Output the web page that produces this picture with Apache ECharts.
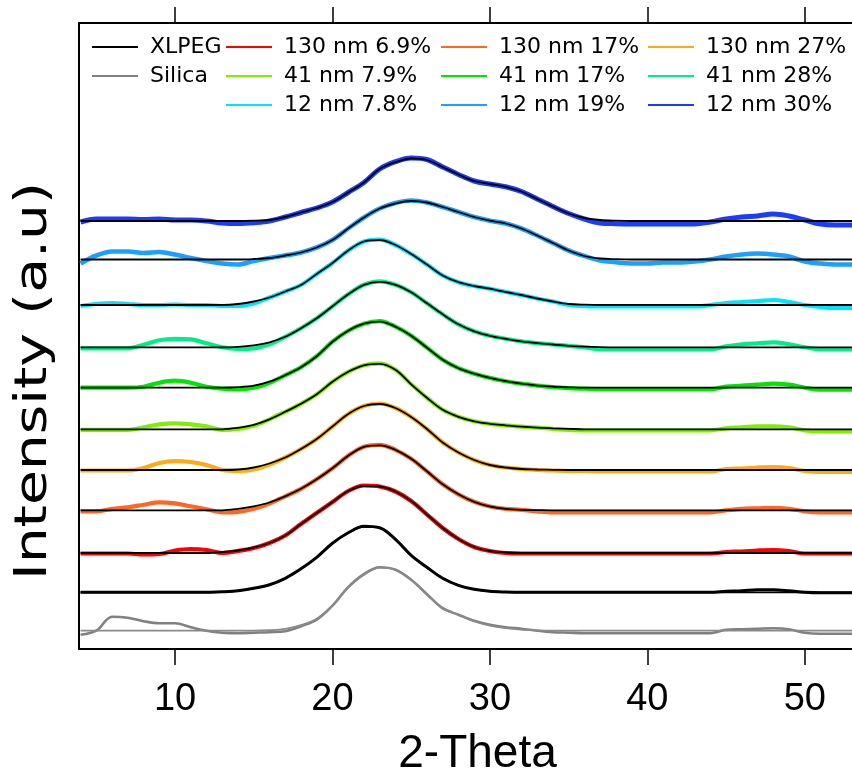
<!DOCTYPE html>
<html>
<head>
<meta charset="utf-8">
<script src="https://cdn.jsdelivr.net/npm/echarts@6/dist/echarts.min.js"></script>
<style>
  html, body { margin: 0; padding: 0; background: #fff; }
  #chart { width: 852px; height: 769px; }
</style>
</head>
<body>
<div id="chart"></div>
<script>
// Diffraction angle (degrees 2-Theta) shared by every pattern
const twoTheta = [4,5,6,7,8,9,10,11,12,13,14,15,16,17,18,19,20,21,22,23,24,25,26,27,28,29,
  30,31,32,33,34,35,36,37,38,39,40,41,42,43,44,45,46,47,48,49,50,51,52,53];

const tickValues = [10, 20, 30, 40, 50];

// Legend names, bottom pattern first
const sampleNames = ['Silica', 'XLPEG', '130 nm 6.9%', '130 nm 17%', '130 nm 27%',
  '41 nm 7.9%', '41 nm 17%', '41 nm 28%', '12 nm 7.8%', '12 nm 19%', '12 nm 30%'];

// Vertical offset of each pattern in the stack (a.u.)
const baselines = [18.3, 56.7, 96, 138.7, 179, 219.7, 261.3, 301.7, 344, 389.5, 428];

// Measured intensities (a.u., above each pattern's baseline)
const obsSilica = [-4,0,14,13,9.5,7.5,7.5,3.5,0,-2,-2.5,-2,
  -1.5,-0.5,4.5,11,25,43.5,56.5,63.5,61,51,36.5,22.5,16,10,6,3.5,2,0,
  -1.5,-2,-2.5,-2.5,-2.5,-2.5,-2.5,-2.5,-2.5,-2.5,-2.5,1,1.5,2,2.5,1.5,-2,-3,-3,-3];
const obsXLPEG = [0,0,0,0,0,0,0,0,0,
  0.5,1.5,4,7.5,14,23.5,35,49,59.5,66,64.5,53,37,25,14,7,3,1,0.3,
  0,0,0,0,0,0,0,0,0,0,0,0,0,1,1.5,2.5,2.5,1.5,0,-0.5,-0.5,-0.5];
const obs130a = [-0.5,-0.5,-0.5,-0.5,-1.5,-1,2.5,4,3,
  0,2,5,10,17.5,29,40,51,62,67.5,66.5,61.5,52,38.5,25,14,6,2,0,
  -0.5,-0.5,-0.5,-0.5,-0.5,-0.5,-0.5,-0.5,-0.5,-0.5,-0.5,-0.5,-0.5,1,1.5,2.5,3,2,-0.5,-0.5,-0.5,-0.5];
const obs130b = [-1,-1,1.5,3,5.5,8,7,4,1,-2,
  -1.5,1.5,6.8,14,21.5,31,42,54.5,63.5,65.5,60.5,51.5,39,26,16,8.5,3.8,1.5,0.5,-1,
  -2,-2,-2,-2,-2,-2,-2,-2,-2,-2,-2,0,1.5,2,2.5,1.5,-1,-2,-2,-2];
const obs130c = [-0.5,-0.5,-0.5,-0.5,2,7,9,8,5,0,
  -1,0.5,5.5,12.5,21,31,43.5,56,64,66.5,62,53,41,27.5,17.5,10,5,2.5,1,0,-0.5,
  -1,-1,-1.5,-1.5,-1.5,-1.5,-1.5,-1.5,-1.5,-1.5,1,1.5,2.5,3,2,-1,-2,-2,-2];
const obs41a = [-0.5,-0.5,-0.5,-0.5,2,5,6,5,3,-0.5,
  0.5,3.5,10,17.5,25.5,35,47.5,57.5,64,66,59.5,45,31.5,19.5,12.5,8,5.5,4,2.6,1.6,0.5,-0.5,
  -1,-1,-1,-1,-1,-1,-1,-1,-1,1,2,3,3,2,-1,-2,-2,-2];
const obs41b = [0,0,0,0,1,5,7,5,1,-1,
  -1.5,0,5,12.5,20.5,31.5,46,57,64,66.5,61,52,40,28,19.5,14,9.8,6.5,4,2.1,0.5,-0.5,
  -1,-1.5,-1.5,-1.5,-1.5,-1.5,-1.5,-1.5,-1.5,1,2,3,4,3,0,-2,-2,-2];
const obs41c = [-1,-1,-1,-1,2.5,7,8.5,8,4,0,
  -1.5,-1,3,10.5,19,29,41,53,62.5,66,62.5,55,44,33,23,16,11.5,8.5,6,4.2,2.8,1.5,0,-1.8,
  -2,-2,-2,-2,-2,-2,-2,1,3,4,5,3,0,-2,-2,-2];
const obs12a = [-1,1,2,1,0,0,0.5,0,0,-1,
  -1,1.5,7.5,13.5,20,31,42,54.5,63.5,65.5,60,51,40.5,29.5,22.8,19,16.3,13,10,6.5,3.5,0,-1,
  -1.5,-1.5,-1.5,-1.5,-1.5,-1.5,-1.5,0,2,3,4,5,3,0,-2,-3,-3];
const obs12b = [-4,4,8,8,6.5,7.5,5,1.5,-1.5,-4,-5,
  -1.5,1.5,4,7,12,19.5,31,42,51,56.5,59,57,52.5,47.5,42.5,38.8,36,31,24,16.5,9,3.5,-1,-2.7,
  -4,-4,-3,-3,-2,0,3,5,6,5,3,-2,-4,-5,-5];
const obs12c = [-1,2,2,2,1.5,2,1,1,0,-2,-2.5,
  -1.7,0,4,8.5,13,19,28.5,38.5,52,59.3,63,61.5,54,46.5,40,37,34.2,29.5,22,14.5,7.5,2,-2,-2.7,
  -3,-3,-3,-3,-3,-1,2,4,5,7,5,1,-3,-4,-4];

// Fitted profiles (a.u., above each pattern's baseline)
const fitSilica = [0,0,0,0,0,0,0,0,0,0,0,0,
  0.5,1.8,5.5,12,25,43,56,63,61,51,36.5,22,16,9.5,5,2.5,1,0.3,
  0,0,0,0,0,0,0,0,0,0,0,0,0,0,0,0,0,0,0,0];
const fitXLPEG = [0,0,0,0,0,0,0,0,0,
  0.5,1.5,4,7.5,14,23.5,35,49,59.5,65.5,64.5,53,37,25,14,7,3,1,0.3,
  0,0,0,0,0,0,0,0,0,0,0,0,0,0,0,0,0,0,0,0,0,0];
const fit130a = [0,0,0,0,0,0,0,0,0,
  1,2.5,5.5,10,17.5,29,40,51,62,67,66.5,61.5,52,38.5,25,14,6,2,0.5,
  0,0,0,0,0,0,0,0,0,0,0,0,0,0,0,0,0,0,0,0,0,0];
const fit130b = [0,0,0,0,0,0,0,0,0,0,
  1.5,4,7.8,14,21.5,31,42,54.5,63.5,65,60.5,51.5,39,26,16,8.5,3.8,1.5,0.5,0.2,
  0,0,0,0,0,0,0,0,0,0,0,0,0,0,0,0,0,0,0,0];
const fit130c = [0,0,0,0,0,0,0,0,0,0,
  0.5,2.5,6.5,12.5,21,31,43.5,56,64,66,62,53,41,27.5,17.5,10,5,2.5,1,0.5,0.2,
  0,0,0,0,0,0,0,0,0,0,0,0,0,0,0,0,0,0,0];
const fit41a = [0,0,0,0,0,0,0,0,0,0,
  1.5,4.5,10,17.5,25.5,35,47.5,57.5,64,65.5,59.5,45,31.5,19.5,12.5,8,5.5,4,2.6,1.6,1,0.5,
  0,0,0,0,0,0,0,0,0,0,0,0,0,0,0,0,0,0];
const fit41b = [0,0,0,0,0,0,0,0,0,0,
  0.5,2,6,12.5,20.5,31.5,46,57,64,66,61,52,40,28,19.5,14,9.8,6.5,4,2.1,1,0.4,
  0,0,0,0,0,0,0,0,0,0,0,0,0,0,0,0,0,0];
const fit41c = [0,0,0,0,0,0,0,0,0,0,
  0.5,2,5,10.5,19,29,41,53,62.5,65.5,62.5,55,44,33,23,16,11.5,8.5,6,4.2,2.8,1.5,0.7,0.2,
  0,0,0,0,0,0,0,0,0,0,0,0,0,0,0,0];
const fit12a = [0,0,0,0,0,0,0,0,0,0,
  1,3.5,7.5,13.5,20,31,42,54.5,63.5,65,60,51,40.5,29.5,22.8,19,16.3,13,10,6.5,3.5,1,0.3,
  0,0,0,0,0,0,0,0,0,0,0,0,0,0,0,0,0];
const fit12b = [0,0,0,0,0,0,0,0,0,0,0,
  0.5,1.5,4,7,12,19.5,31,42,51,56,58.5,57,52.5,47.5,42.5,38.8,36,31,24,16.5,9,3.5,1,0.3,
  0,0,0,0,0,0,0,0,0,0,0,0,0,0,0];
const fit12c = [0,0,0,0,0,0,0,0,0,0,0,
  0.3,1,4,8.5,13,19,28.5,38.5,52,58.8,62.5,61,54,46.5,40,37,34.2,29.5,22,14.5,7.5,3,1,0.3,
  0,0,0,0,0,0,0,0,0,0,0,0,0,0,0];

const observed = [obsSilica, obsXLPEG, obs130a, obs130b, obs130c, obs41a, obs41b, obs41c, obs12a, obs12b, obs12c];
const fitted = [fitSilica, fitXLPEG, fit130a, fit130b, fit130c, fit41a, fit41b, fit41c, fit12a, fit12b, fit12c];

// Trace colours
const colors = ['#808080', '#000000', '#ff0000', '#ff6622', '#ffaa11',
  '#80ee00', '#00e600', '#00ee88', '#00e5ff', '#1aa0ff', '#1a3cff'];
const fitColors = colors.map((c, i) => (i === 0 ? '#8a8a8a' : '#000000'));
const obsWidths = [2.6, 3, 4.2, 4.2, 4.2, 4.2, 4.2, 4.2, 4.2, 4.6, 5];

const toPoints = (vals, base) => twoTheta.map((t, k) => [t, base + vals[k]]);

const series = [];
sampleNames.forEach((name, i) => {
  series.push({
    type: 'line', name: name, color: colors[i],
    data: toPoints(observed[i], baselines[i]),
    symbol: 'none', smooth: 0.35,
    lineStyle: { width: obsWidths[i], color: colors[i] },
    z: 2
  });
  series.push({
    type: 'line', name: name + ' fit',
    data: toPoints(fitted[i], baselines[i]),
    symbol: 'none', smooth: 0.35,
    lineStyle: { width: 1.8, color: fitColors[i] },
    z: 3
  });
});

const legendFont = { fontFamily: 'DejaVu Sans', fontSize: 22, color: '#000', lineHeight: 22, padding: [0, 0, 0, 7] };
const legendBase = {
  orient: 'vertical', top: 36, itemGap: 7, itemWidth: 46, itemHeight: 2,
  icon: 'rect', selectedMode: false, textStyle: legendFont, padding: 0
};
const legendColumns = [
  { left: 92, data: ['XLPEG', 'Silica'] },
  { left: 226, data: ['130 nm 6.9%', '41 nm 7.9%', '12 nm 7.8%'] },
  { left: 441, data: ['130 nm 17%', '41 nm 17%', '12 nm 19%'] },
  { left: 648, data: ['130 nm 27%', '41 nm 28%', '12 nm 30%'] }
];

const axisFrame = { show: true, lineStyle: { color: '#000', width: 2 } };
const chart = echarts.init(document.getElementById('chart'), null, { renderer: 'canvas' });
chart.setOption({
  animation: false,
  backgroundColor: '#ffffff',
  grid: { left: 79, right: 0, top: 23, bottom: 120, containLabel: false, outerBoundsMode: 'none' },
  legend: legendColumns.map(c => Object.assign({}, legendBase, c)),
  xAxis: [
    {
      type: 'value', position: 'bottom', min: 3.9, max: 53,
      axisLine: axisFrame,
      axisTick: { show: true, inside: false, length: 16, customValues: tickValues, lineStyle: { color: '#000', width: 1.5 } },
      axisLabel: { show: true, customValues: tickValues, margin: 32, fontFamily: 'Liberation Sans', fontSize: 38, color: '#000' },
      splitLine: { show: false },
      name: '2-Theta', nameLocation: 'middle', nameGap: 82,
      nameTextStyle: { fontFamily: 'Liberation Sans', fontSize: 46, color: '#000', padding: [0, 0, 0, 24] }
    },
    {
      type: 'value', position: 'top', min: 3.9, max: 53,
      axisLine: axisFrame,
      axisTick: { show: true, inside: false, length: 16, customValues: tickValues, lineStyle: { color: '#000', width: 1.5 } },
      axisLabel: { show: false },
      splitLine: { show: false }
    }
  ],
  yAxis: {
    type: 'value', min: 0, max: 626,
    axisLine: axisFrame,
    axisTick: { show: false }, axisLabel: { show: false }, splitLine: { show: false }
  },
  graphic: [{
    type: 'text', x: 35, y: 381, rotation: Math.PI / 2, scaleX: 1.29,
    style: {
      text: 'Intensity (a.u)', fontFamily: 'DejaVu Sans', fontSize: 44, fill: '#000',
      textAlign: 'center', textVerticalAlign: 'middle'
    }
  }],
  series: series
});
</script>
</body>
</html>
